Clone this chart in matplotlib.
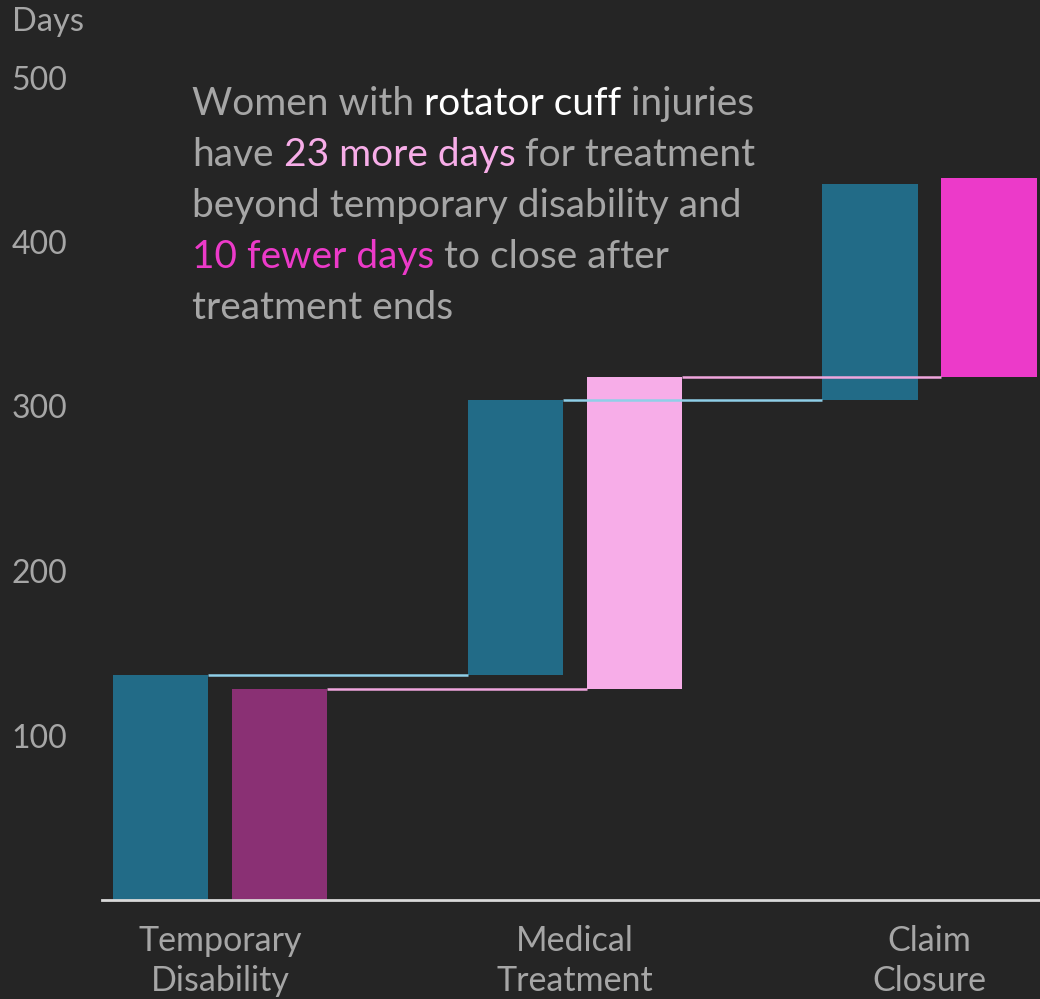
import matplotlib
matplotlib.use("Agg")
import matplotlib.pyplot as plt
import numpy as np

plt.rcParams["font.family"] = ["Lato", "DejaVu Sans"]

# data
categories = ["Temporary\nDisability", "Medical\nTreatment", "Claim\nClosure"]
base_days = [137, 167, 131]
women_days = [128, 190, 121]
y_ticks = [100, 200, 300, 400, 500]

BG = "#252525"
GREY = "#a6a6a6"
TEAL = "#226b87"
WOMEN_COLORS = ["#8a3074", "#f7ade8", "#ec3ac9"]
TEAL_LINE = "#8fcfe8"
PINK_LINE = "#f0a6de"

fig = plt.figure(figsize=(10.4, 9.99), dpi=100, facecolor=BG)
ax = fig.add_axes([102 / 1040, 99 / 999, 938 / 1040, 822.5 / 999])
ax.set_facecolor(BG)

x = np.arange(len(categories))
w = 0.268
off = 0.1677

base_cum = np.cumsum(base_days)
women_cum = np.cumsum(women_days)
base_bottom = base_cum - np.array(base_days)
women_bottom = women_cum - np.array(women_days)

ax.bar(x - off, base_days, w, bottom=base_bottom, color=TEAL)
ax.bar(x + off, women_days, w, bottom=women_bottom, color=WOMEN_COLORS)

# connectors between steps
for i in range(len(x) - 1):
    ax.hlines(base_cum[i], x[i] - off + w / 2, x[i + 1] - off - w / 2,
              color=TEAL_LINE, lw=1.8)
    ax.hlines(women_cum[i], x[i] + off + w / 2, x[i + 1] + off - w / 2,
              color=PINK_LINE, lw=1.8)

ax.set_xlim(-0.3326, 2.3115)
ax.set_ylim(0, 500)
ax.set_yticks(y_ticks)
ax.set_xticks(x)
ax.set_xticklabels(categories, linespacing=1.3)
ax.tick_params(axis="y", length=0, pad=65, labelsize=23, labelcolor=GREY)
for lab in ax.get_yticklabels():
    lab.set_horizontalalignment("left")
ax.tick_params(axis="x", length=0, pad=18, labelsize=24.5, labelcolor=GREY)
for s in ["top", "right", "left"]:
    ax.spines[s].set_visible(False)
ax.spines["bottom"].set_color("#d9d9d9")
ax.spines["bottom"].set_linewidth(2)

fig.text(12 / 1040, 1 - 22 / 999, "Days", color=GREY, fontsize=23.5,
         ha="left", va="center")

# annotation with coloured words
lines = [
    [("Women with", GREY), (" rotator cuff", "white"), (" injuries", GREY)],
    [("have", GREY), (" 23 more days", WOMEN_COLORS[1]), (" for treatment", GREY)],
    [("beyond temporary disability and", GREY)],
    [("10 fewer days", WOMEN_COLORS[2]), (" to close after", GREY)],
    [("treatment ends", GREY)],
]
baselines = [115, 166, 217, 268, 319]
for segs, yb in zip(lines, baselines):
    prev = fig.text(192 / 1040, 1 - yb / 999, segs[0][0], color=segs[0][1],
                    fontsize=28, ha="left", va="baseline")
    for txt, col in segs[1:]:
        prev = ax.annotate(txt, xy=(1, 0), xycoords=prev, color=col,
                           fontsize=28, ha="left", va="bottom")

fig.savefig("out.png", dpi=100, facecolor=BG)
